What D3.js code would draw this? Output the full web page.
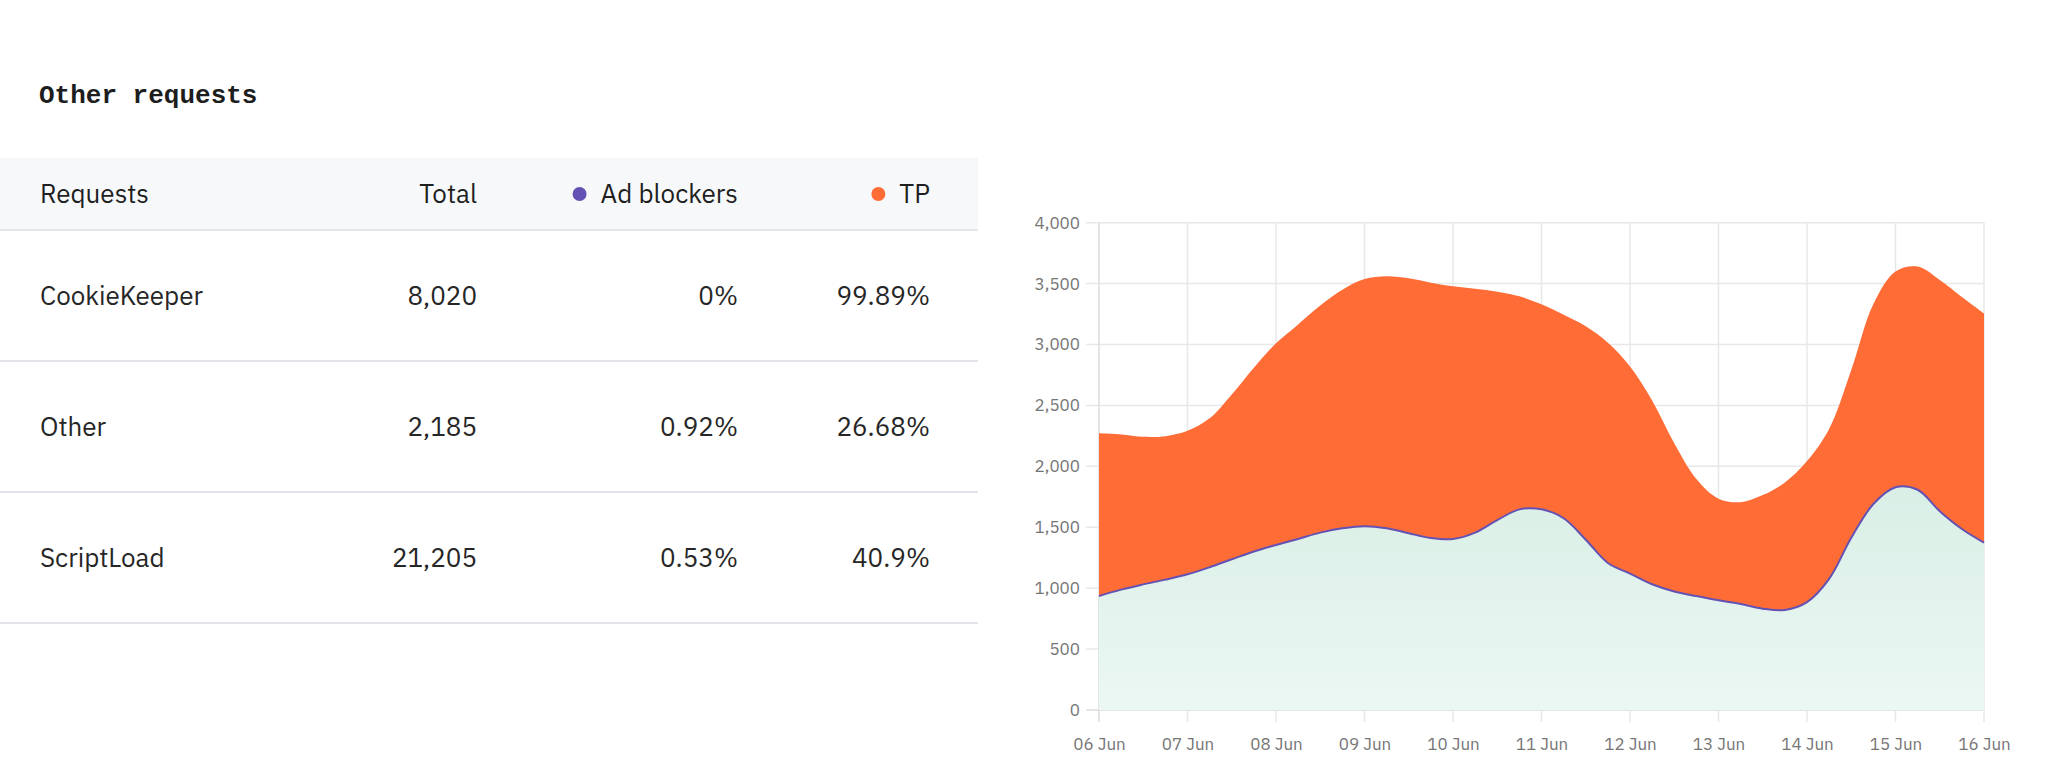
<!DOCTYPE html>
<html>
<head>
<meta charset="utf-8">
<script src="https://cdn.jsdelivr.net/npm/d3@7"></script>
<style>
  body { margin: 0; background: #fff; }
  svg { display: block; }
</style>
</head>
<body>
<svg id="page" width="2048" height="780"></svg>
<script>
// table data
const requestNames = ["CookieKeeper", "Other", "ScriptLoad"];
const requestTotals = [8020, 2185, 21205];
const adBlockerShare = [0, 0.92, 0.53];
const tpShare = [99.89, 26.68, 40.9];

// chart data, one value every 6 hours from 06 Jun 00:00 to 16 Jun 00:00
const adBlockers = [
  935, 988, 1031, 1070, 1114, 1172, 1237, 1301, 1354, 1404,
  1456, 1492, 1509, 1492, 1451, 1412, 1404, 1456, 1559, 1647,
  1647, 1574, 1398, 1207, 1120, 1032, 973, 935, 900, 870,
  832, 821, 885, 1076, 1413, 1691, 1829, 1808, 1632, 1486,
  1374
];
const tp = [
  1336, 1274, 1211, 1178, 1178, 1222, 1353, 1509, 1656, 1761,
  1864, 1958, 2028, 2068, 2092, 2096, 2074, 2002, 1875, 1749,
  1683, 1670, 1752, 1808, 1700, 1509, 1216, 961, 835, 836,
  932, 1046, 1158, 1231, 1377, 1641, 1771, 1832, 1898, 1904,
  1881
];
const yTicks = [0, 500, 1000, 1500, 2000, 2500, 3000, 3500, 4000];

const START = new Date(2023, 5, 6);
const END = new Date(2023, 5, 16);

const PURPLE = "#6352b3";
const ORANGE = "#ff6c36";
const SANS = "'IBM Plex Sans', Inter, 'Noto Sans', sans-serif";

const svg = d3.select("#page");

// === Title ===
svg.append("text")
  .attr("x", 39)
  .attr("y", 94)
  .attr("dy", "0.35em")
  .style("font-family", "'Liberation Mono', monospace")
  .style("font-weight", "700")
  .style("font-size", "26px")
  .attr("fill", "#1d1d1d")
  .text("Other requests");

// === Table ===
const tableW = 978;
const headTop = 158;
const headBottom = 230;
const rowH = 131;

svg.append("rect")
  .attr("x", 0).attr("y", headTop)
  .attr("width", tableW).attr("height", headBottom - headTop)
  .attr("fill", "#f7f8fa");

const columns = [
  { label: "Requests", x: 40, anchor: "start", values: requestNames },
  { label: "Total", x: 477, anchor: "end", values: requestTotals.map(d3.format(",")) },
  { label: "Ad blockers", x: 738, anchor: "end", dot: PURPLE, values: adBlockerShare.map((d) => d + "%") },
  { label: "TP", x: 930, anchor: "end", dot: ORANGE, values: tpShare.map((d) => d + "%") }
];

const headY = (headTop + headBottom) / 2;

columns.forEach((col) => {
  const label = svg.append("text")
    .attr("x", col.x)
    .attr("y", headY)
    .attr("dy", "0.35em")
    .attr("text-anchor", col.anchor)
    .style("font-family", SANS)
    .style("font-size", "26px")
    .attr("fill", "#1f1f1f")
    .text(col.label);

  if (col.dot) {
    const w = label.node().getComputedTextLength();
    svg.append("circle")
      .attr("cx", col.x - w - 21)
      .attr("cy", headY)
      .attr("r", 7)
      .attr("fill", col.dot);
  }

  col.values.forEach((v, i) => {
    svg.append("text")
      .attr("x", col.x)
      .attr("y", headBottom + rowH * i + rowH / 2)
      .attr("dy", "0.35em")
      .attr("text-anchor", col.anchor)
      .style("font-family", SANS)
      .style("font-size", "26px")
      .attr("fill", "#262626")
      .text(v);
  });
});

// row separators
svg.selectAll("line.row")
  .data(d3.range(requestNames.length + 1))
  .enter()
  .append("line")
  .attr("class", "row")
  .attr("x1", 0).attr("x2", tableW)
  .attr("y1", (i) => headBottom + rowH * i)
  .attr("y2", (i) => headBottom + rowH * i)
  .attr("stroke", "#e2e5e9")
  .attr("stroke-width", 2);

// === Stacked area chart ===
const series = adBlockers.map((v, i) => ({
  date: d3.timeHour.offset(START, i * 6),
  adBlockers: v,
  tp: tp[i]
}));

const stacked = d3.stack().keys(["adBlockers", "tp"])(series);

const x = d3.scaleTime()
  .domain([START, END])
  .range([1099, 1984]);

const y = d3.scaleLinear()
  .domain([0, 4000])
  .range([710, 222.7]);

// gridlines
svg.append("g")
  .selectAll("line")
  .data(yTicks)
  .enter()
  .append("line")
  .attr("x1", 1086).attr("x2", x(END))
  .attr("y1", (d) => y(d)).attr("y2", (d) => y(d))
  .attr("stroke", (d) => (d === 0 ? "#dcdcdc" : "#e8e8e8"))
  .attr("stroke-width", 1.5);

const days = d3.timeDay.range(START, d3.timeDay.offset(END, 1));

svg.append("g")
  .selectAll("line")
  .data(days)
  .enter()
  .append("line")
  .attr("x1", (d) => x(d)).attr("x2", (d) => x(d))
  .attr("y1", y(4000)).attr("y2", 722)
  .attr("stroke", (d, i) => (i === 0 ? "#dcdcdc" : "#e8e8e8"))
  .attr("stroke-width", 1.5);

// gradient for the lower area
const defs = svg.append("defs");
const grad = defs.append("linearGradient")
  .attr("id", "mint")
  .attr("x1", 0).attr("x2", 0).attr("y1", 0).attr("y2", 1);
grad.append("stop").attr("offset", "0%").attr("stop-color", "#d9efe6");
grad.append("stop").attr("offset", "100%").attr("stop-color", "#ebf7f3");

const curve = d3.curveCatmullRom.alpha(0.5);

const area = d3.area()
  .curve(curve)
  .x((d) => x(d.data.date))
  .y0((d) => y(d[0]))
  .y1((d) => y(d[1]));

svg.append("path")
  .datum(stacked[1])
  .attr("fill", ORANGE)
  .attr("d", area);

svg.append("path")
  .datum(stacked[0])
  .attr("fill", "url(#mint)")
  .attr("d", area);

const line = d3.line()
  .curve(curve)
  .x((d) => x(d.data.date))
  .y((d) => y(d[1]));

svg.append("path")
  .datum(stacked[0])
  .attr("fill", "none")
  .attr("stroke", PURPLE)
  .attr("stroke-width", 2)
  .attr("d", line);

// axes labels
const xAxis = d3.axisBottom(x)
  .tickValues(days)
  .tickFormat(d3.timeFormat("%d %b"))
  .tickSize(0)
  .tickPadding(28);

const gx = svg.append("g")
  .attr("transform", `translate(0,${y(0)})`)
  .call(xAxis);
gx.select(".domain").remove();
gx.selectAll("text")
  .style("font-family", SANS)
  .style("font-size", "17px")
  .attr("fill", "#757575");

const yAxis = d3.axisLeft(y)
  .tickValues(yTicks)
  .tickFormat(d3.format(","))
  .tickSize(0)
  .tickPadding(19);

const gy = svg.append("g")
  .attr("transform", `translate(${x(START)},0)`)
  .call(yAxis);
gy.select(".domain").remove();
gy.selectAll("text")
  .style("font-family", SANS)
  .style("font-size", "17px")
  .attr("fill", "#757575");
</script>
</body>
</html>
